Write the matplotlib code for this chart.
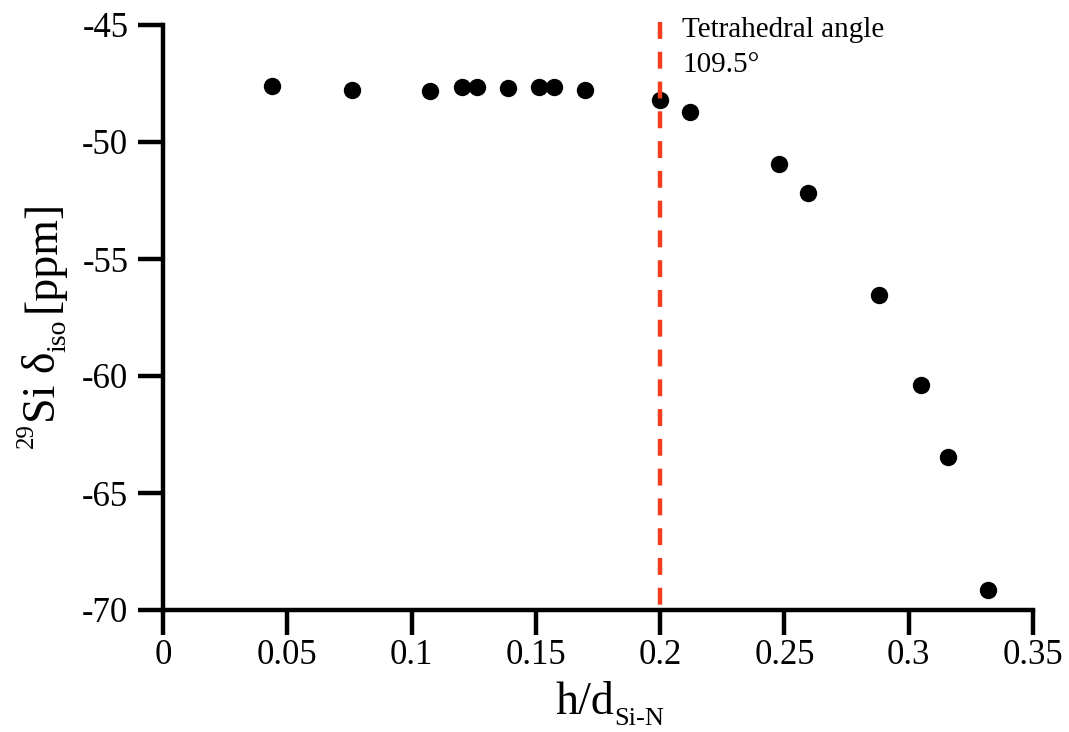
import numpy as np
import matplotlib
matplotlib.use("Agg")
import matplotlib.pyplot as plt

plt.rcParams['font.family'] = ['Liberation Serif', 'DejaVu Serif']
plt.rcParams['axes.unicode_minus'] = False

# h/d ratio vs. 29Si isotropic shift
h_d = [0.0440, 0.0759, 0.1074, 0.1202, 0.1262, 0.1389, 0.1513, 0.1574, 0.1698,
       0.2000, 0.2122, 0.2478, 0.2594, 0.2880, 0.3048, 0.3159, 0.3320]
delta_iso = [-47.59, -47.78, -47.81, -47.64, -47.65, -47.68, -47.64, -47.64, -47.78,
             -48.21, -48.72, -50.95, -52.17, -56.54, -60.38, -63.47, -69.15]

tetra_x = 0.2
xticks = [0, 0.05, 0.1, 0.15, 0.2, 0.25, 0.3, 0.35]
xticklabels = ['0', '0.05', '0.1', '0.15', '0.2', '0.25', '0.3', '0.35']
yticks = [-45, -50, -55, -60, -65, -70]

fig = plt.figure(figsize=(10.69, 7.32), dpi=100)
ax = fig.add_axes([163/1069, 1 - 610/732, 870/1069, 585/732])

ax.plot(h_d, delta_iso, 'o', color='black', ms=11.5, zorder=3, clip_on=False)
# dashed line drawn top-down so the dash pattern starts at the top
ax.plot([tetra_x, tetra_x], [-44.87, -70], color='#f23d1f', lw=3.2,
        dashes=(3.8, 2.9), zorder=4, clip_on=False)
ax.text(0.2089, -45.51, 'Tetrahedral angle', fontsize=21, ha='left', va='baseline')
ax.text(0.2089, -47.01, '109.5°', fontsize=21, ha='left', va='baseline')

ax.set_xlim(0, 0.35)
ax.set_ylim(-70, -45)
ax.set_xticks(xticks)
ax.set_xticklabels(xticklabels)
ax.set_yticks(yticks)

for s in ['top', 'right']:
    ax.spines[s].set_visible(False)
for s in ['left', 'bottom']:
    ax.spines[s].set_linewidth(3.2)
ax.tick_params(direction='out', length=18, width=3.2, labelsize=25)
ax.tick_params(axis='x', pad=3)
ax.tick_params(axis='y', pad=7)

# x label: h/d with small lowered subscript
xl = ax.text(0.4506, -0.1778, 'h/d', fontsize=33, ha='left', va='baseline',
             transform=ax.transAxes)
ax.annotate('Si-N', xy=(1, -0.1966), xycoords=(xl, 'axes fraction'),
            fontsize=19, ha='left', va='baseline')

# y label, built bottom-up from rotated pieces
rot = dict(rotation=90, rotation_mode='anchor', ha='left', va='baseline')
p1 = ax.text(-0.1494, 0.277, '29', fontsize=18, transform=ax.transAxes, **rot)
p2 = ax.annotate('Si δ', xy=(-0.1241, 1), xycoords=('axes fraction', p1),
                 fontsize=33, **rot)
p3 = ax.annotate('iso', xy=(-0.1126, 1), xycoords=('axes fraction', p2),
                 fontsize=20, **rot)
ax.annotate('[ppm]', xy=(-0.1241, 1.0), xycoords=('axes fraction', p3),
            xytext=(0, 5), textcoords='offset points', fontsize=33, **rot)

fig.savefig('out.png', dpi=100)
